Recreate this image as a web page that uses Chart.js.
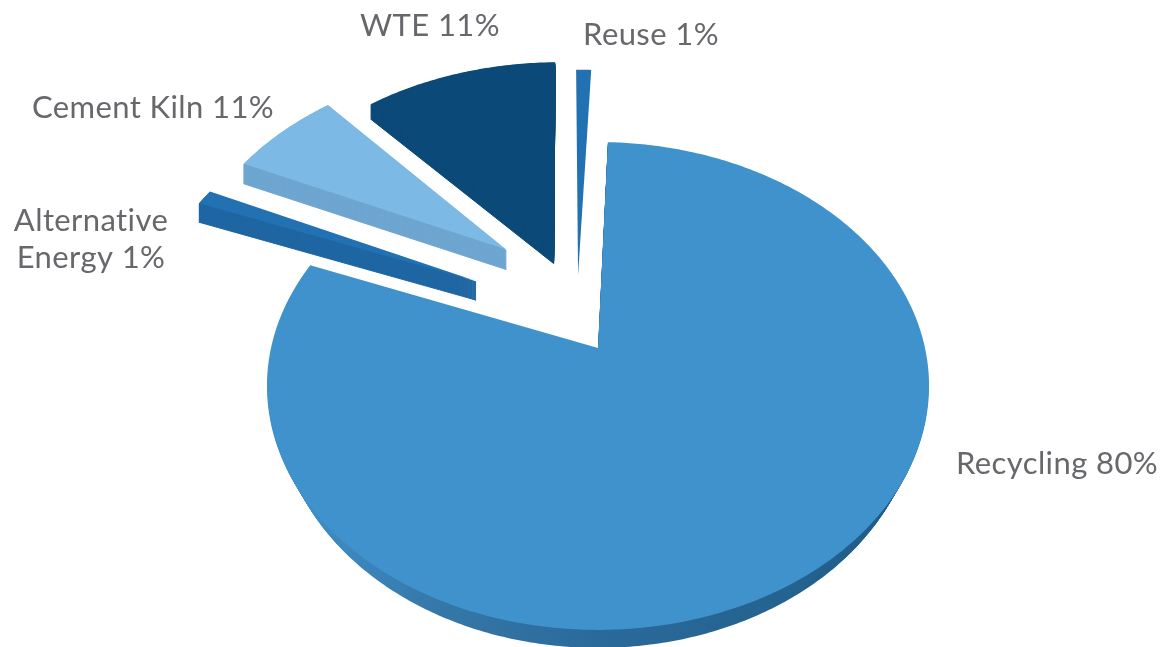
<!DOCTYPE html>
<html>
<head>
<meta charset="utf-8">
<title>Pie</title>
<script src="https://cdn.jsdelivr.net/npm/chart.js@4/dist/chart.umd.min.js"></script>
<style>
  html, body { margin: 0; background: #fff; }
  canvas { display: block; }
</style>
</head>
<body>
<canvas id="pie" width="1163" height="647"></canvas>
<script>
// data, clockwise from the top (drawn sizes, the printed labels do not add up)
const categories = ['Recycling', 'Alternative Energy', 'Cement Kiln', 'WTE', 'Reuse'];
const drawnShares = [79.3, 1, 6.4, 11.1, 0.8];
const labelLines = [['Recycling 80%'], ['Alternative', 'Energy 1%'], ['Cement Kiln 11%'], ['WTE 11%'], ['Reuse 1%']];

// styles
const topColors = ['#3f92cc', '#2272b3', '#7cbae5', '#0b4a78', '#2272b3'];
const sideColors = [null, '#1f66a3', '#6ea6d0', '#0b4a78', '#2272b3'];
const sideDepths = [18, 19, 20, 15, 0];
const sideShrink = [0.002, 0, 0, 0, 0];
const explodeX = [0, -0.39, -0.3, -0.145, -0.064];
const explodeY = [0, -0.294, -0.442, -0.447, -0.322];
const sliceScale = [1, 1.03, 1.03, 1.03, 1.107];
const labelX = [1057, 91, 153, 430, 651];
const labelY = [464, 221, 108, 26, 35];
const lineGap = 37;

// perspective of the tilted disc
const TILT = 0.1557, SCALE_X = 327 / 331, SCALE_Y = 238 / 331;

function _project(el, px, py) {
  const w = 1 - TILT * py;
  return [el.x + SCALE_X * el.outerRadius * px / w, el.y + SCALE_Y * el.outerRadius * py / w];
}

function _slicePath(ctx, el, i, dy) {
  const { startAngle, endAngle } = el.getProps(['startAngle', 'endAngle']);
  const r = sliceScale[i];
  const ox = explodeX[i], oy = explodeY[i];
  const shrink = 1 - sideShrink[i] * dy;
  const steps = Math.max(2, Math.ceil((endAngle - startAngle) * 90));
  ctx.beginPath();
  const apex = _project(el, ox, oy);
  ctx.moveTo(el.x + (apex[0] - el.x) * shrink, apex[1] + dy);
  for (let s = 0; s <= steps; s++) {
    const a = startAngle + (endAngle - startAngle) * s / steps;
    const p = _project(el, ox + r * Math.cos(a), oy + r * Math.sin(a));
    ctx.lineTo(el.x + (p[0] - el.x) * shrink, p[1] + dy);
  }
  ctx.closePath();
}

function _recyclingSide(ctx) {
  const g = ctx.createLinearGradient(280, 0, 920, 0);
  g.addColorStop(0, '#3f92cc');
  g.addColorStop(0.1, '#3c88bf');
  g.addColorStop(0.25, '#3577a8');
  g.addColorStop(0.5, '#2a6a9a');
  g.addColorStop(0.8, '#24628f');
  g.addColorStop(1, '#1f5a86');
  return g;
}

const tiltedPie = {
  id: 'tiltedPie',
  beforeDatasetDraw(chart, args) {
    const ctx = chart.ctx;
    const arcs = args.meta.data;
    ctx.save();
    arcs.forEach((el, i) => {
      const side = i === 0 ? _recyclingSide(ctx) : sideColors[i];
      ctx.fillStyle = side;
      ctx.strokeStyle = side;
      ctx.lineWidth = 1;
      for (let d = sideDepths[i]; d > 0; d--) {
        _slicePath(ctx, el, i, d);
        ctx.fill();
        // the thin slices lose their tips without a hairline
        if (i > 0) ctx.stroke();
      }
      _slicePath(ctx, el, i, 0);
      ctx.fillStyle = el.options.backgroundColor;
      ctx.fill();
    });
    ctx.restore();
    return false;
  },
  afterDraw(chart) {
    const ctx = chart.ctx;
    ctx.save();
    ctx.font = '31px Lato';
    ctx.letterSpacing = '0.4px';
    ctx.fillStyle = '#67686b';
    ctx.textAlign = 'center';
    ctx.textBaseline = 'middle';
    labelLines.forEach((lines, i) => {
      lines.forEach((line, j) => ctx.fillText(line, labelX[i], labelY[i] + j * lineGap));
    });
    ctx.restore();
  }
};

new Chart(document.getElementById('pie').getContext('2d'), {
  type: 'pie',
  data: {
    labels: categories,
    datasets: [{
      data: drawnShares,
      backgroundColor: topColors,
      borderWidth: 0,
      radius: 331,
      rotation: 2
    }]
  },
  options: {
    responsive: false,
    animation: false,
    layout: { padding: { left: 33, top: 49 } },
    plugins: { legend: { display: false }, tooltip: { enabled: false } }
  },
  plugins: [tiltedPie]
});
</script>
</body>
</html>
